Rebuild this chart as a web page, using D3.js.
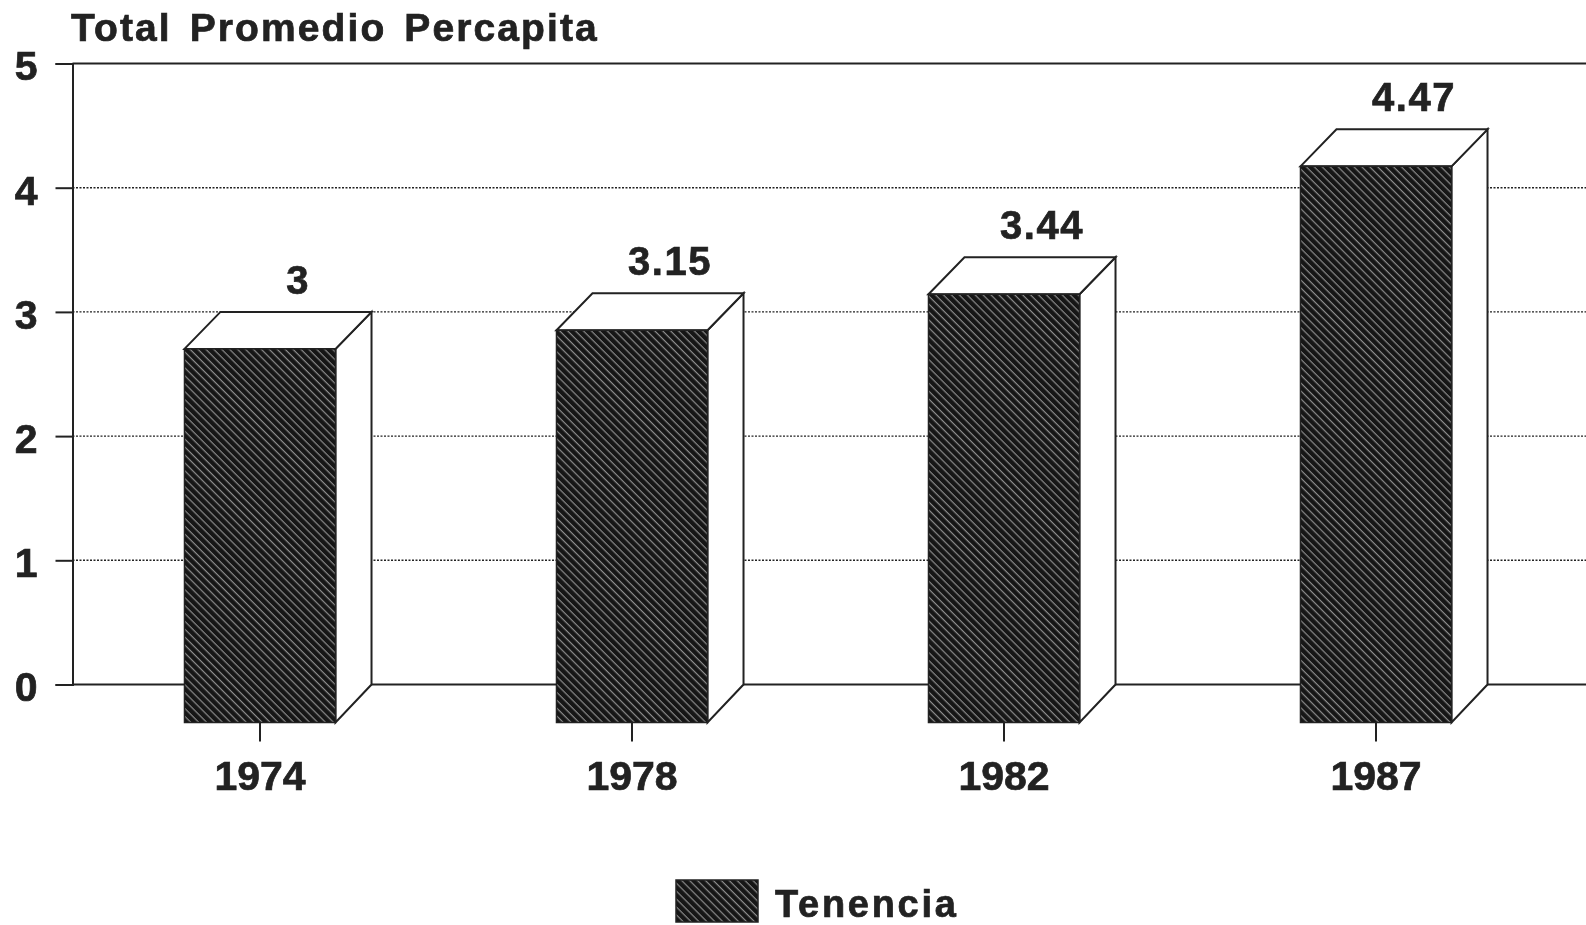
<!DOCTYPE html>
<html>
<head>
<meta charset="utf-8">
<script src="https://cdn.jsdelivr.net/npm/d3@7"></script>
<style>
    html, body { margin: 0; padding: 0; background: #fff; overflow: hidden; }
    svg { filter: blur(0.5px); }
    text { font-family: "Liberation Sans", Arial, sans-serif; font-weight: bold; fill: #222; stroke: #222; stroke-width: 0.7px; }
</style>
</head>
<body>
<svg id="chart" width="1586" height="925"></svg>
<script>
var years = ["1974", "1978", "1982", "1987"];
var values = [3, 3.15, 3.44, 4.47];
var valueLabels = ["3", "3.15", "3.44", "4.47"];
var yTicks = [0, 1, 2, 3, 4, 5];
var seriesName = "Tenencia";
var chartTitle = "Total Promedio Percapita";

var width = 1586, height = 925, ink = "#222";
var depthX = 36, depthY = 37;

var svg = d3.select("#chart");

var x = d3.scaleBand().domain(years).range([74, 1562]).paddingInner(0.594).paddingOuter(0.297);
var y = d3.scaleLinear().domain([0, 5]).range([684.5, 63.5]);

// hatch fill, thin light diagonals on near black
var pattern = svg.append("defs").append("pattern")
    .attr("id", "hatch")
    .attr("width", 5.6).attr("height", 5.6)
    .attr("patternUnits", "userSpaceOnUse")
    .attr("patternTransform", "rotate(45)");
pattern.append("rect").attr("width", 5.6).attr("height", 5.6).attr("fill", "#161616");
pattern.append("rect").attr("width", 5.6).attr("height", 1.2).attr("fill", "#8c8c8c");

// gridlines
svg.append("g").selectAll("line").data(yTicks).enter()
    .append("line")
    .attr("x1", 72.5).attr("x2", width)
    .attr("y1", function(d) { return y(d); })
    .attr("y2", function(d) { return y(d); })
    .attr("stroke", ink)
    .attr("stroke-width", function(d) { return (d === 0 || d === 5) ? 2 : 1.4; })
    .attr("stroke-dasharray", function(d) { return (d === 0 || d === 5) ? null : "2 1.5"; });

// y axis
var yAxis = svg.append("g")
    .attr("transform", "translate(72.5,0)")
    .call(d3.axisLeft(y).tickValues(yTicks).tickSize(17).tickPadding(18).tickFormat(d3.format("d")));
yAxis.select(".domain").attr("stroke", ink).attr("stroke-width", 2);
yAxis.selectAll(".tick line").attr("stroke", ink).attr("stroke-width", 2);
yAxis.selectAll(".tick text")
    .attr("font-size", 41)
    .attr("dy", "0.4em")
    .attr("style", "fill:" + ink);

// x axis ticks hang from the front face
var xAxis = svg.append("g")
    .attr("transform", "translate(0," + (y(0) + depthY + 1) + ")")
    .call(d3.axisBottom(x).tickSize(19));
xAxis.select(".domain").remove();
xAxis.selectAll(".tick line").attr("stroke", ink).attr("stroke-width", 2);
xAxis.selectAll(".tick text")
    .attr("font-size", 41)
    .attr("y", 67)
    .attr("dy", 0)
    .attr("style", "fill:" + ink);

// bars: side, top, then front
var bars = svg.selectAll(".bar").data(years).enter()
    .append("g")
    .attr("class", "bar");

function left(d) { return x(d); }
function right(d) { return x(d) + x.bandwidth(); }
function top_(i) { return y(values[i]); }

bars.append("path")
    .attr("d", function(d, i) {
        var r = right(d);
        return "M" + r + "," + (top_(i) + depthY) + "L" + (r + depthX) + "," + top_(i) +
            "L" + (r + depthX) + "," + y(0) + "L" + r + "," + (y(0) + depthY + 1) + "Z";
    })
    .attr("fill", "#fff").attr("stroke", ink).attr("stroke-width", 2);

bars.append("path")
    .attr("d", function(d, i) {
        var l = left(d), r = right(d);
        return "M" + l + "," + (top_(i) + depthY) + "L" + (l + depthX) + "," + top_(i) +
            "L" + (r + depthX) + "," + top_(i) + "L" + r + "," + (top_(i) + depthY) + "Z";
    })
    .attr("fill", "#fff").attr("stroke", ink).attr("stroke-width", 2);

bars.append("rect")
    .attr("x", left)
    .attr("y", function(d, i) { return top_(i) + depthY; })
    .attr("width", x.bandwidth())
    .attr("height", function(d, i) { return y(0) - top_(i) + 1; })
    .attr("fill", "url(#hatch)")
    .attr("stroke", ink).attr("stroke-width", 1.5);

// value labels
bars.append("text")
    .attr("x", function(d) { return x(d) + x.bandwidth() / 2 + depthX + 2; })
    .attr("y", function(d, i) { return top_(i) - 18; })
    .attr("text-anchor", "middle")
    .attr("font-size", 40)
    .attr("letter-spacing", 1.5)
    .text(function(d, i) { return valueLabels[i]; });

// title
svg.append("text")
    .attr("x", 71).attr("y", 41)
    .attr("font-size", 39)
    .attr("letter-spacing", 2.1)
    .attr("word-spacing", 5)
    .text(chartTitle);

// legend
svg.append("rect")
    .attr("x", 676).attr("y", 880)
    .attr("width", 82).attr("height", 42)
    .attr("fill", "url(#hatch)")
    .attr("stroke", ink).attr("stroke-width", 1.5);
svg.append("text")
    .attr("x", 775).attr("y", 916.5)
    .attr("font-size", 38)
    .attr("letter-spacing", 2.7)
    .text(seriesName);
</script>
</body>
</html>
